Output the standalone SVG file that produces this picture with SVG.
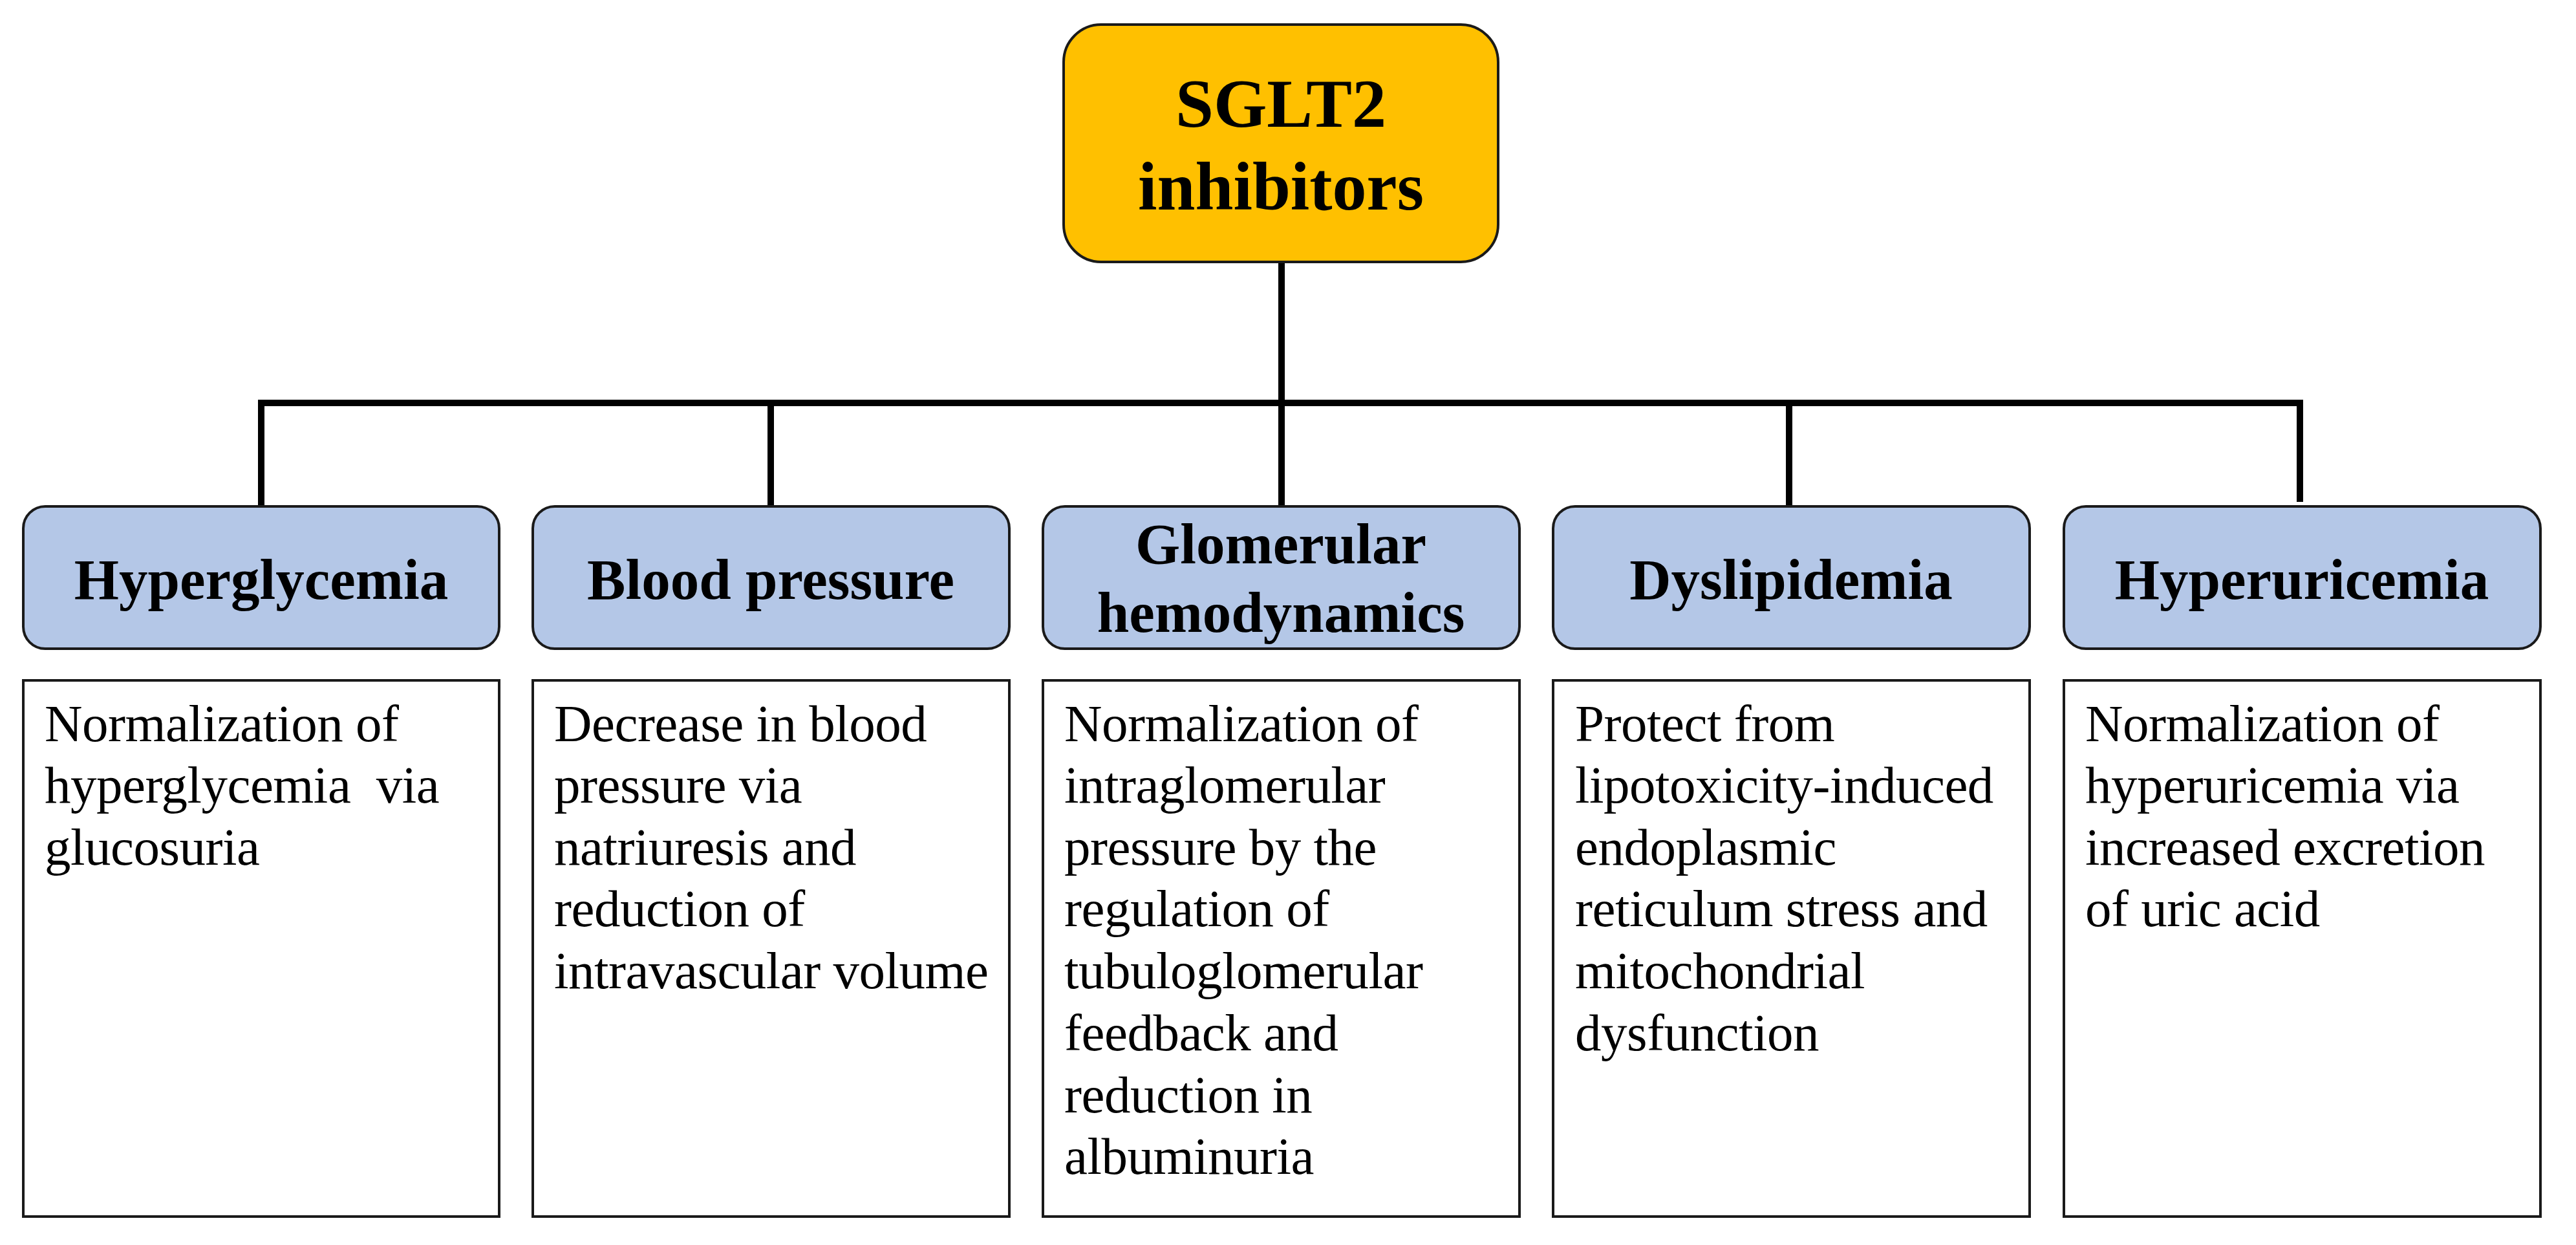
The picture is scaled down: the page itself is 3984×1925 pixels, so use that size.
<svg xmlns="http://www.w3.org/2000/svg" width="3984" height="1925" viewBox="0 0 3984 1925">
<style>
.root{fill:#FFC000;stroke:#1a1a1a;stroke-width:4}
.hdr{fill:#B4C7E7;stroke:#1a1a1a;stroke-width:4}
.body{fill:#FFFFFF;stroke:#1a1a1a;stroke-width:4}
.conn{stroke:#000;stroke-width:10;fill:none;stroke-linecap:butt}
.ht{font-family:"Liberation Serif","Times New Roman",serif;font-weight:bold;font-size:89px;fill:#000;text-anchor:middle}
.rt{font-family:"Liberation Serif","Times New Roman",serif;font-weight:bold;font-size:106px;fill:#000;text-anchor:middle}
.bt{font-family:"Liberation Serif","Times New Roman",serif;font-size:81px;letter-spacing:-0.5px;fill:#000}
</style>
<rect width="3984" height="1925" fill="#FFFFFF"/>
<g id="connectors">
<line class="conn" x1="1982" y1="405" x2="1982" y2="783"/>
<line class="conn" x1="399" y1="623" x2="3562" y2="623"/>
<line class="conn" x1="404" y1="618" x2="404" y2="783"/>
<line class="conn" x1="1192" y1="618" x2="1192" y2="783"/>
<line class="conn" x1="2767" y1="618" x2="2767" y2="783"/>
<line class="conn" x1="3557" y1="618" x2="3557" y2="776"/>
</g>
<g id="root">
<rect class="root" x="1645" y="38" width="672" height="367" rx="58" ry="58"/>
<text class="rt" x="1981" y="196">SGLT2</text>
<text class="rt" x="1981" y="324">inhibitors</text>
</g>
<g id="hyperglycemia">
<rect class="hdr" x="36" y="783" width="736" height="220" rx="34" ry="34"/>
<text class="ht" x="404" y="926">Hyperglycemia</text>
<rect class="body" x="36" y="1052" width="736" height="829"/>
<text class="bt" x="69" y="1146">Normalization of</text>
<text class="bt" x="69" y="1241">hyperglycemia&#160; via</text>
<text class="bt" x="69" y="1337">glucosuria</text>
</g>
<g id="blood-pressure">
<rect class="hdr" x="824" y="783" width="737" height="220" rx="34" ry="34"/>
<text class="ht" x="1192" y="926">Blood pressure</text>
<rect class="body" x="824" y="1052" width="737" height="829"/>
<text class="bt" x="857" y="1146">Decrease in blood</text>
<text class="bt" x="857" y="1241">pressure via</text>
<text class="bt" x="857" y="1337">natriuresis and</text>
<text class="bt" x="857" y="1432">reduction of</text>
<text class="bt" x="857" y="1528">intravascular volume</text>
</g>
<g id="glomerular">
<rect class="hdr" x="1613" y="783" width="737" height="220" rx="34" ry="34"/>
<text class="ht" x="1981" y="871">Glomerular</text>
<text class="ht" x="1981" y="977">hemodynamics</text>
<rect class="body" x="1613" y="1052" width="737" height="829"/>
<text class="bt" x="1646" y="1146">Normalization of</text>
<text class="bt" x="1646" y="1241">intraglomerular</text>
<text class="bt" x="1646" y="1337">pressure by the</text>
<text class="bt" x="1646" y="1432">regulation of</text>
<text class="bt" x="1646" y="1528">tubuloglomerular</text>
<text class="bt" x="1646" y="1624">feedback and</text>
<text class="bt" x="1646" y="1720">reduction in</text>
<text class="bt" x="1646" y="1815">albuminuria</text>
</g>
<g id="dyslipidemia">
<rect class="hdr" x="2402" y="783" width="737" height="220" rx="34" ry="34"/>
<text class="ht" x="2770" y="926">Dyslipidemia</text>
<rect class="body" x="2402" y="1052" width="737" height="829"/>
<text class="bt" x="2436" y="1146">Protect from</text>
<text class="bt" x="2436" y="1241">lipotoxicity-induced</text>
<text class="bt" x="2436" y="1337">endoplasmic</text>
<text class="bt" x="2436" y="1432">reticulum stress and</text>
<text class="bt" x="2436" y="1528">mitochondrial</text>
<text class="bt" x="2436" y="1624">dysfunction</text>
</g>
<g id="hyperuricemia">
<rect class="hdr" x="3192" y="783" width="737" height="220" rx="34" ry="34"/>
<text class="ht" x="3560" y="926">Hyperuricemia</text>
<rect class="body" x="3192" y="1052" width="737" height="829"/>
<text class="bt" x="3225" y="1146">Normalization of</text>
<text class="bt" x="3225" y="1241">hyperuricemia via</text>
<text class="bt" x="3225" y="1337">increased excretion</text>
<text class="bt" x="3225" y="1432">of uric acid</text>
</g>
</svg>
